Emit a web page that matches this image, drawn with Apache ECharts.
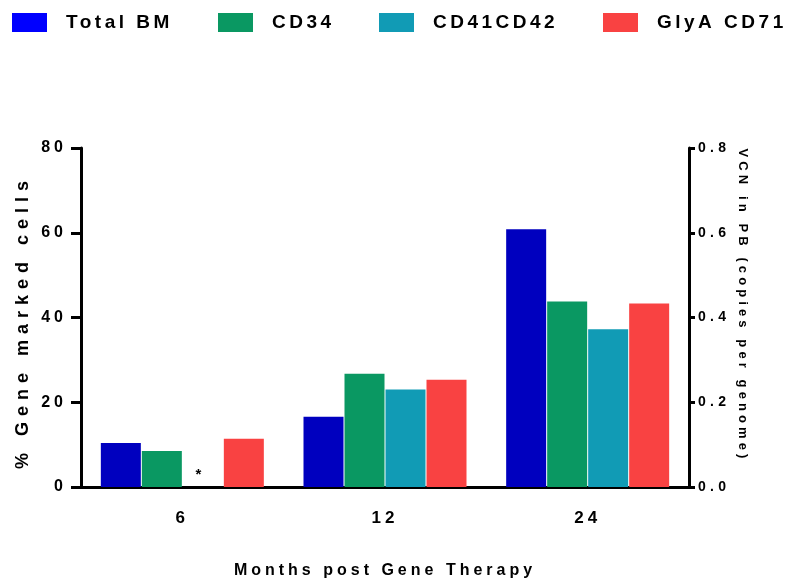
<!DOCTYPE html>
<html>
<head>
<meta charset="utf-8">
<title>Gene marked cells</title>
<script src="https://cdn.jsdelivr.net/npm/echarts@6/dist/echarts.min.js"></script>
<style>
	html, body { margin: 0; padding: 0; background: #fff; }
	#chart { width: 788px; height: 579px; }
</style>
</head>
<body>
<div id="chart"></div>
<script>
	var months = [ '6', '12', '24' ];
	var totalBM = [ 10.4, 16.6, 60.8 ];
	var cd34 = [ 8.5, 26.7, 43.8 ];
	var cd41cd42 = [ 0, 23.0, 37.2 ];
	var glyaCd71 = [ 11.4, 25.3, 43.3 ];
	var cd41Notes = [ '*', '', '' ];
	var leftTicks = { min : 0, max : 80, interval : 20 };
	var rightTicks = { min : 0, max : 0.8, interval : 0.2 };

	// the figure uses spaced-out lettering; echarts has no option for it so set it on the canvas
	// (spacing in px, keyed by font size)
	var letterSpacing = { 19 : 3.5, 18 : 6, 17 : 4, 16 : 4, 15 : 3, 14 : 4.3, 13 : 4.1 };
	var drawText = CanvasRenderingContext2D.prototype.fillText;
	CanvasRenderingContext2D.prototype.fillText = function() {
		var m = /(\d+)px/.exec(this.font);
		var gap = m && letterSpacing[m[1]];
		this.letterSpacing = (gap || 0) + 'px';
		return drawText.apply(this, arguments);
	};

	var font = 'Liberation Sans';
	var black = '#000';

	var legendItem = function(name, left, swatch) {
		return {
			left : left,
			top : 13,
			padding : 0,
			icon : 'rect',
			itemWidth : 35,
			itemHeight : 19,
			selectedMode : false,
			data : [ {
				name : name,
				itemStyle : {
					color : swatch
				}
			} ],
			textStyle : {
				fontFamily : font,
				fontWeight : 'bold',
				fontSize : 19,
				color : black,
				padding : [ 0, 0, 0, 14 ]
			}
		};
	};

	var bar = function(name, values, color) {
		return {
			name : name,
			type : 'bar',
			barWidth : 40,
			barGap : '2.5%',
			data : values,
			itemStyle : {
				color : color
			}
		};
	};

	var cd41Data = cd41cd42.map(function(v, i) {
		if (!cd41Notes[i]) {
			return v;
		}
		return {
			value : v,
			label : {
				show : true,
				position : 'top',
				distance : 5,
				offset : [ -3, 0 ],
				formatter : cd41Notes[i],
				fontFamily : font,
				fontWeight : 'bold',
				fontSize : 15,
				color : black
			}
		};
	});

	var axisStyle = {
		axisLine : {
			show : true,
			lineStyle : {
				color : black,
				width : 3
			}
		},
		splitLine : {
			show : false
		}
	};

	var chart = echarts.init(document.getElementById('chart'));
	var option = {
		animation : false,
		legend : [ legendItem('Total BM', 12, '#0000FF'),
				legendItem('CD34', 218, '#0A9862'),
				legendItem('CD41CD42', 379, '#119BB5'),
				legendItem('GlyA CD71', 603, '#F94242') ],
		grid : {
			left : 81,
			right : 99,
			top : 148,
			bottom : 92,
			outerBoundsMode : 'none'
		},
		xAxis : Object.assign({
			type : 'category',
			data : months,
			name : 'Months post Gene Therapy',
			nameLocation : 'middle',
			nameGap : 76,
			nameTextStyle : {
				fontFamily : font,
				fontWeight : 'bold',
				fontSize : 16,
				color : black
			},
			axisTick : {
				alignWithLabel : true,
				length : 8,
				lineStyle : {
					color : black,
					width : 3
				}
			},
			axisLabel : {
				margin : 23,
				fontFamily : font,
				fontWeight : 'bold',
				fontSize : 17,
				color : black
			}
		}, axisStyle),
		yAxis : [ Object.assign({
			type : 'value',
			position : 'left',
			min : leftTicks.min,
			max : leftTicks.max,
			interval : leftTicks.interval,
			name : '% Gene marked cells',
			nameLocation : 'middle',
			nameGap : 49,
			nameTextStyle : {
				fontFamily : font,
				fontWeight : 'bold',
				fontSize : 18,
				color : black,
				padding : [ 0, 9, 0, 0 ]
			},
			axisTick : {
				show : true,
				length : 10,
				lineStyle : {
					color : black,
					width : 3
				}
			},
			axisLabel : {
				margin : 14,
				padding : [ 3, 0, 0, 0 ],
				fontFamily : font,
				fontWeight : 'bold',
				fontSize : 16,
				color : black
			}
		}, axisStyle), Object.assign({
			type : 'value',
			position : 'right',
			min : rightTicks.min,
			max : rightTicks.max,
			interval : rightTicks.interval,
			name : 'VCN in PB (copies per genome)',
			nameLocation : 'middle',
			nameRotate : -90,
			nameGap : 47,
			nameTextStyle : {
				fontFamily : font,
				fontWeight : 'bold',
				fontSize : 13,
				color : black,
				padding : [ 0, 24, 0, 0 ]
			},
			axisTick : {
				show : true,
				length : 6,
				lineStyle : {
					color : black,
					width : 3
				}
			},
			axisLabel : {
				margin : 9,
				fontFamily : font,
				fontWeight : 'bold',
				fontSize : 14,
				color : black,
				formatter : function(v) {
					return v.toFixed(1);
				}
			}
		}, axisStyle) ],
		series : [ bar('Total BM', totalBM, '#0000BF'),
				bar('CD34', cd34, '#0A9862'),
				bar('CD41CD42', cd41Data, '#119BB5'),
				bar('GlyA CD71', glyaCd71, '#F94242') ]
	};
	chart.setOption(option);
</script>
</body>
</html>
